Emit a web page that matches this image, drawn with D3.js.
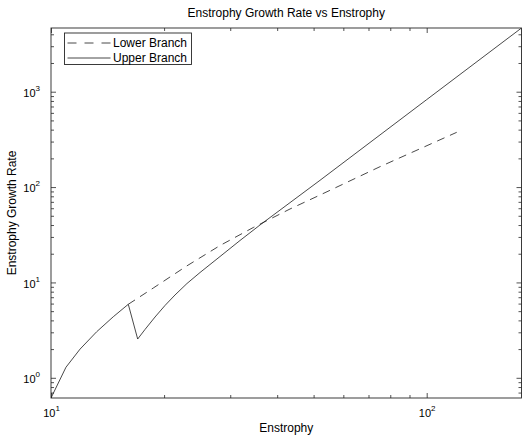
<!DOCTYPE html>
<html>
<head>
<meta charset="utf-8">
<script src="https://cdn.jsdelivr.net/npm/d3@7"></script>
<style>
  html, body { margin: 0; padding: 0; background: #fff; }
  svg { display: block; font-family: "Liberation Sans", Arial, Helvetica, sans-serif; }
</style>
</head>
<body>
<svg id="chart" width="522" height="435"></svg>
<script>
// ---- data ----
const upperX = [10, 10.96, 11.95, 13.23, 14.65, 16.06, 17.01, 17.79, 18.92, 20.11, 21.38, 23.01, 24.93, 28.18, 31.85, 36.0, 52.0, 100, 178.8];
const upperY = [0.614, 1.29, 2.0, 3.04, 4.37, 5.9, 2.55, 3.21, 4.34, 5.73, 7.38, 9.74, 12.71, 18.7, 27.53, 40.02, 117.7, 826, 4656];
const lowerX = [16.06, 18.72, 22.97, 28.18, 34.55, 43.27, 52.0, 75.1, 120.2];
const lowerY = [5.9, 8.74, 14.87, 24.39, 37.67, 58.89, 82.5, 163.5, 375];
const xTickValues = [10, 100];
const yTickValues = [1, 10, 100, 1000];
const xDomain = [10, 178.8];
const yDomain = [0.614, 4656];
const seriesNames = ["Lower Branch", "Upper Branch"];
const titleText = "Enstrophy Growth Rate vs Enstrophy";
const xLabelText = "Enstrophy";
const yLabelText = "Enstrophy Growth Rate";

// ---- layout ----
const W = 522, H = 435;
const margin = {left: 51, right: 0.5, top: 28, bottom: 37};
const pw = W - margin.left - margin.right;
const ph = H - margin.top - margin.bottom;
const axisColor = "#262626";
const lineColor = "#1a1a1a";

const svg = d3.select("#chart");
const x = d3.scaleLog().domain(xDomain).range([0, pw]);
const y = d3.scaleLog().domain(yDomain).range([ph, 0]);

function minorTicks(domain) {
  const out = [];
  const lo = Math.floor(Math.log10(domain[0])), hi = Math.ceil(Math.log10(domain[1]));
  for (let e = lo; e <= hi; e++) {
    for (let m = 2; m <= 9; m++) {
      const v = m * Math.pow(10, e);
      if (v > domain[0] && v < domain[1]) out.push(v);
    }
  }
  return out;
}
const xMinor = minorTicks(xDomain);
const yMinor = minorTicks(yDomain);

const g = svg.append("g").attr("transform", `translate(${margin.left},${margin.top})`);

// axes ticks (inward, all four sides)
function styleAxis(sel) {
  sel.select(".domain").remove();
  sel.selectAll(".tick line").attr("stroke", axisColor).attr("stroke-width", 0.8);
}
const majorLen = 5, minorLen = 3;
g.append("g").attr("transform", `translate(0,${ph})`)
  .call(d3.axisBottom(x).tickValues(xMinor).tickSizeInner(-minorLen).tickSizeOuter(0).tickFormat(""))
  .call(styleAxis);
g.append("g").call(d3.axisTop(x).tickValues(xMinor).tickSizeInner(-minorLen).tickSizeOuter(0).tickFormat(""))
  .call(styleAxis);
g.append("g").call(d3.axisLeft(y).tickValues(yMinor).tickSizeInner(-minorLen).tickSizeOuter(0).tickFormat(""))
  .call(styleAxis);
g.append("g").attr("transform", `translate(${pw},0)`)
  .call(d3.axisRight(y).tickValues(yMinor).tickSizeInner(-minorLen).tickSizeOuter(0).tickFormat(""))
  .call(styleAxis);

g.append("g").call(d3.axisTop(x).tickValues(xTickValues).tickSizeInner(-majorLen).tickSizeOuter(0).tickFormat(""))
  .call(styleAxis);
g.append("g").attr("transform", `translate(${pw},0)`)
  .call(d3.axisRight(y).tickValues(yTickValues).tickSizeInner(-majorLen).tickSizeOuter(0).tickFormat(""))
  .call(styleAxis);

// bottom axis with labels
const xAx = g.append("g").attr("transform", `translate(0,${ph})`)
  .call(d3.axisBottom(x).tickValues(xTickValues).tickSizeInner(-majorLen).tickSizeOuter(0).tickFormat(""))
  .call(styleAxis);
xAx.selectAll(".tick text").each(function(d) {
  const t = d3.select(this);
  t.attr("y", 19).attr("dy", null).attr("fill", "#000").attr("font-size", 11).attr("text-anchor", "middle")
   .attr("font-family", "Liberation Sans, Arial, sans-serif");
  t.append("tspan").text("10");
  t.append("tspan").attr("font-size", 8).attr("dy", -6).text(Math.round(Math.log10(d)));
});

// left axis with labels
const yAx = g.append("g")
  .call(d3.axisLeft(y).tickValues(yTickValues).tickSizeInner(-majorLen).tickSizeOuter(0).tickFormat(""))
  .call(styleAxis);
yAx.selectAll(".tick text").each(function(d) {
  const t = d3.select(this);
  t.attr("x", -11).attr("dy", null).attr("y", 4.8).attr("fill", "#000").attr("font-size", 11).attr("text-anchor", "end")
   .attr("font-family", "Liberation Sans, Arial, sans-serif");
  t.append("tspan").text("10");
  t.append("tspan").attr("font-size", 8).attr("dy", -6).text(Math.round(Math.log10(d)));
});

// frame
g.append("rect").attr("x", 0).attr("y", 0).attr("width", pw).attr("height", ph)
  .attr("fill", "none").attr("stroke", axisColor).attr("stroke-width", 0.9);

// clip
svg.append("clipPath").attr("id", "clip").append("rect").attr("x", 0).attr("y", 0).attr("width", pw).attr("height", ph);
const plot = g.append("g").attr("clip-path", "url(#clip)");

const line = d3.line().x(d => x(d[0])).y(d => y(d[1]));
const lowerData = lowerX.map((v, i) => [v, lowerY[i]]);
const upperData = upperX.map((v, i) => [v, upperY[i]]);

plot.append("path").datum(lowerData).attr("d", line)
  .attr("fill", "none").attr("stroke", lineColor).attr("stroke-width", 0.8).attr("stroke-dasharray", "8,6");
plot.append("path").datum(upperData).attr("d", line)
  .attr("fill", "none").attr("stroke", lineColor).attr("stroke-width", 0.8);

// title and axis labels
svg.append("text").attr("x", margin.left + pw / 2).attr("y", 17).attr("text-anchor", "middle")
  .attr("font-size", 12).attr("fill", "#000").text(titleText);
svg.append("text").attr("x", margin.left + pw / 2).attr("y", 432).attr("text-anchor", "middle")
  .attr("font-size", 12).attr("fill", "#000").text(xLabelText);
svg.append("text").attr("transform", `translate(16,${margin.top + ph / 2}) rotate(-90)`).attr("text-anchor", "middle")
  .attr("font-size", 12).attr("fill", "#000").text(yLabelText);

// legend
const lg = svg.append("g").attr("transform", "translate(64.5,33)");
lg.append("rect").attr("x", 0).attr("y", 0).attr("width", 127).attr("height", 31.5)
  .attr("fill", "#fff").attr("stroke", axisColor).attr("stroke-width", 0.9);
const dashes = ["9,8", null];
seriesNames.forEach((name, i) => {
  const yy = 10 + i * 15;
  lg.append("line").attr("x1", 3).attr("x2", 46).attr("y1", yy).attr("y2", yy)
    .attr("stroke", lineColor).attr("stroke-width", 0.8).attr("stroke-dasharray", dashes[i]);
  lg.append("text").attr("x", 48.5).attr("y", yy + 4.3).attr("font-size", 12).attr("fill", "#000").text(name);
});
</script>
</body>
</html>
